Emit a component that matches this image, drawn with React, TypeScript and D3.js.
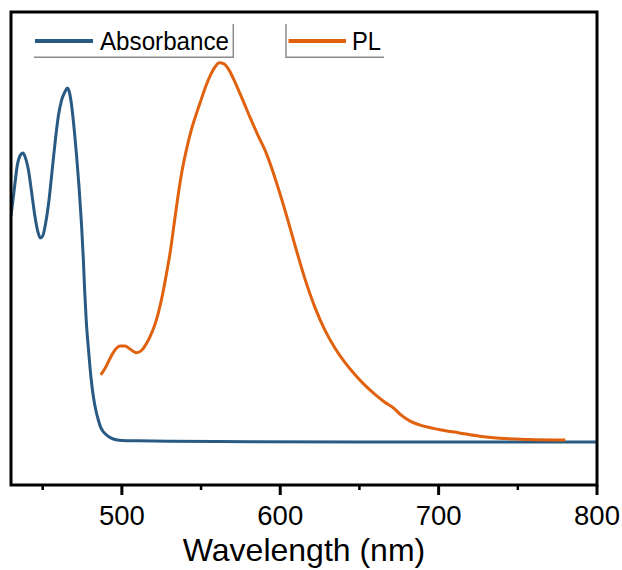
import React from "react";
import * as d3 from "d3";

// Wavelength (nm) and normalized intensity
const absWavelength = [430, 432, 434, 436, 437.5, 439, 441, 443, 445, 447, 448.5, 450, 452, 454, 456, 458, 460, 462, 464, 465.5, 467, 468.5, 470, 471.5, 473, 474.5, 475.7, 476.5, 477.5, 479, 480.5, 482, 483.5, 485, 486.5, 488.5, 491, 494.5, 500, 510, 530, 560, 650, 800];
const absValue = [0.596, 0.664, 0.73, 0.757, 0.762, 0.751, 0.717, 0.659, 0.598, 0.554, 0.538, 0.543, 0.58, 0.638, 0.717, 0.796, 0.862, 0.902, 0.923, 0.933, 0.92, 0.88, 0.82, 0.75, 0.67, 0.575, 0.48, 0.4, 0.32, 0.24, 0.17, 0.12, 0.085, 0.06, 0.04, 0.026, 0.016, 0.008, 0.004, 0.003, 0.002, 0.001, 0.0, 0.0];

const plWavelength = [486.7, 489.5, 492.6, 495.8, 498.9, 502, 505.2, 509.4, 512.8, 515.3, 517.8, 520.5, 523, 525.5, 528, 530.5, 533, 535.5, 538, 541, 544, 547, 550, 553, 556, 559, 561.5, 564.5, 567.6, 571.4, 576.3, 581, 586, 590.3, 594.8, 599.8, 604.8, 609.9, 615.6, 621.9, 628.2, 634.5, 640.8, 647.1, 653.4, 660, 666, 672, 676, 682, 688, 700, 713, 726, 738.5, 757, 780];
const plValue = [0.177, 0.195, 0.221, 0.243, 0.253, 0.253, 0.245, 0.235, 0.243, 0.258, 0.278, 0.305, 0.34, 0.385, 0.44, 0.5, 0.575, 0.65, 0.715, 0.775, 0.825, 0.865, 0.902, 0.938, 0.968, 0.99, 1.0, 0.997, 0.981, 0.949, 0.902, 0.855, 0.808, 0.77, 0.72, 0.655, 0.585, 0.51, 0.43, 0.355, 0.295, 0.248, 0.21, 0.178, 0.15, 0.125, 0.105, 0.088, 0.072, 0.055, 0.045, 0.033, 0.024, 0.015, 0.01, 0.0066, 0.005];

const majorTicks = [500, 600, 700, 800];
const minorTicks = [450, 550, 650, 750];
const seriesNames = ["Absorbance", "PL"];
const xTitle = "Wavelength (nm)";

const BLUE = "#285a84";
const ORANGE = "#e0620f";
const FONT = "'Liberation Sans', Arial, sans-serif";

export default function App() {
  const W = 622, H = 570;
  const left = 11, right = 597, top = 12, bottom = 485;
  const x = d3.scaleLinear().domain([430, 800]).range([left, right]);
  const y = d3.scaleLinear().domain([0, 1]).range([442, 62.7]);

  const line = d3
    .line<[number, number]>()
    .x((d) => x(d[0]))
    .y((d) => y(d[1]))
    .curve(d3.curveMonotoneX);

  const absPath = line(absWavelength.map((w, i) => [w, absValue[i]]) as [number, number][]) || "";
  const plPath = line(plWavelength.map((w, i) => [w, plValue[i]]) as [number, number][]) || "";

  return (
    <svg
      width={W}
      height={H}
      style={{ position: "absolute", left: 0, top: 0, background: "#fff" }}
      fontFamily={FONT}
    >
      <defs>
        <clipPath id="plotclip">
          <rect x={left} y={top} width={right - left} height={bottom - top} />
        </clipPath>
      </defs>
      <g clipPath="url(#plotclip)">
        <path d={absPath} fill="none" stroke={BLUE} strokeWidth={3} strokeLinejoin="round" />
        <path d={plPath} fill="none" stroke={ORANGE} strokeWidth={3} strokeLinejoin="round" />
      </g>

      {/* frame */}
      <rect x={left} y={top} width={right - left} height={bottom - top} fill="none" stroke="#000" strokeWidth={3} />

      {/* ticks */}
      {majorTicks.map((t) => (
        <g key={"M" + t}>
          <line x1={x(t)} x2={x(t)} y1={bottom} y2={bottom + 10} stroke="#000" strokeWidth={3} />
          <text x={x(t)} y={525} fontSize={27.5} textAnchor="middle" fill="#000">
            {t}
          </text>
        </g>
      ))}
      {minorTicks.map((t) => (
        <line key={"m" + t} x1={x(t)} x2={x(t)} y1={bottom} y2={bottom + 5} stroke="#000" strokeWidth={2.5} />
      ))}

      <text x={(left + right) / 2} y={561} fontSize={32} textAnchor="middle" fill="#000">
        {xTitle}
      </text>

      {/* legend */}
      <g>
        <line x1={35} x2={93} y1={41} y2={41} stroke={BLUE} strokeWidth={4} />
        <text x={100} y={49.5} fontSize={25} fill="#000" textLength={129} lengthAdjust="spacingAndGlyphs">
          {seriesNames[0]}
        </text>
        <polyline points="34,57.3 233.3,57.3 233.3,24" fill="none" stroke="#8a8a8a" strokeWidth={1.5} />

        <line x1={288.5} x2={346} y1={41} y2={41} stroke={ORANGE} strokeWidth={4} />
        <text x={352} y={49.5} fontSize={25} fill="#000" textLength={29} lengthAdjust="spacingAndGlyphs">
          {seriesNames[1]}
        </text>
        <polyline points="286,24 286,57.3 384,57.3" fill="none" stroke="#8a8a8a" strokeWidth={1.5} />
      </g>
    </svg>
  );
}
